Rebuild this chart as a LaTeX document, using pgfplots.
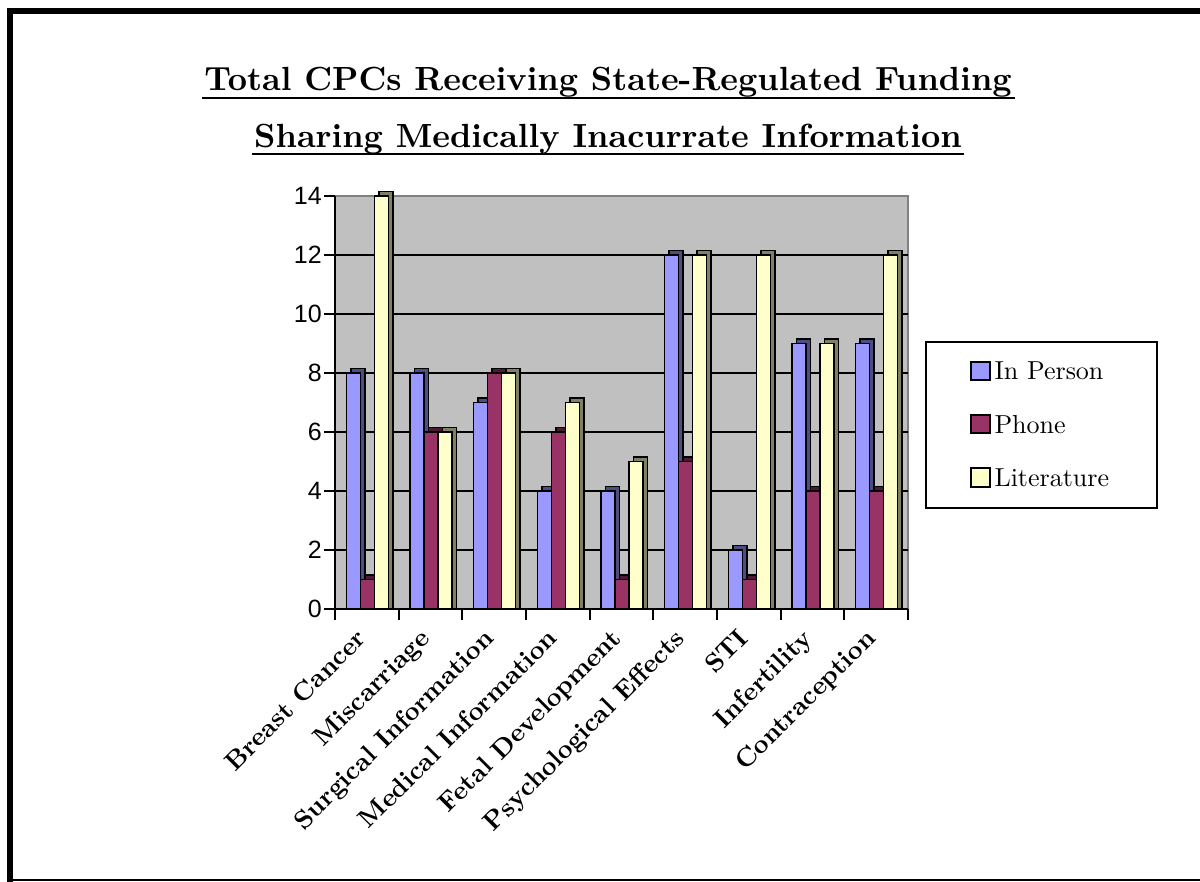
\documentclass[border=0pt]{standalone}
\usepackage{fontspec}
\setmainfont{lmroman10-regular.otf}[BoldFont=lmroman10-bold.otf, ItalicFont=lmroman10-italic.otf, BoldItalicFont=lmroman10-bolditalic.otf]
\usepackage{pgfplots}
\pgfplotsset{compat=1.18}
\usepackage{pgfplotstable}
\newfontfamily\arialf{Liberation Sans}
\definecolor{cblue}{RGB}{153,153,255}
\definecolor{cmaroon}{RGB}{153,51,102}
\definecolor{cyellow}{RGB}{255,255,204}
\definecolor{dblue}{RGB}{77,77,128}
\definecolor{dmaroon}{RGB}{77,26,51}
\definecolor{dyellow}{RGB}{128,128,102}
\definecolor{wall}{RGB}{192,192,192}
\definecolor{walledge}{RGB}{128,128,128}

\pgfplotstableread{
x inperson phone literature
0 8 1 14
1 8 6 6
2 7 8 8
3 4 6 7
4 4 1 5
5 12 5 12
6 2 1 12
7 9 4 9
8 9 4 12
}\datatable

\pgfplotsset{
 sqlegend/.style={legend image code/.code={\draw[fill=#1,draw=black,line width=2pt] (0pt,-8.5pt) rectangle (18.5pt,10pt);}},
}

\begin{document}
\begin{tikzpicture}[x=1pt,y=1pt]
\useasboundingbox (0,0) rectangle (1200,882);
% frame
\draw[line width=6pt] (10,0) -- (10,874);
\draw[line width=6pt] (7,871) -- (1200,871);
\draw[line width=2pt] (10,1.5) -- (1200,1.5);
% title
\node[anchor=base, inner sep=0pt, font=\fontsize{33.5}{36}\selectfont\bfseries] (t1) at (608,791) {Total CPCs Receiving State-Regulated Funding};
\draw[line width=2.5pt] ([xshift=-2pt,yshift=-7pt]t1.base west) -- ([xshift=3pt,yshift=-7pt]t1.base east);
\node[anchor=base, inner sep=0pt, font=\fontsize{33.5}{36}\selectfont\bfseries] (t2) at (608,734) {Sharing Medically Inacurrate Information};
\draw[line width=2.5pt] ([xshift=-2pt,yshift=-6pt]t2.base west) -- ([xshift=2pt,yshift=-6pt]t2.base east);

\begin{axis}[
 at={(335pt,273pt)}, anchor=south west,
 scale only axis, width=573pt, height=413pt,
 xmin=-0.5, xmax=8.5, ymin=0, ymax=14,
 clip=false,
 axis x line*=bottom, axis y line*=left,
 axis line style={line width=2pt},
 axis background/.style={fill=wall, draw=walledge, line width=1.5pt},
 xtick={-0.5,0.5,...,8.5},
 x tick label as interval,
 xticklabels={Breast Cancer,Miscarriage,Surgical Information,Medical Information,Fetal Development,Psychological Effects,STI,Infertility,Contraception},
 xticklabel style={font=\fontsize{26}{26}\selectfont\bfseries, xshift=-12pt, yshift=-7pt, rotate=45, anchor=north east, inner sep=0pt},
 ytick={0,2,...,14},
 yticklabel style={font=\arialf\fontsize{25}{25}\selectfont, inner sep=2pt},
 /pgf/number format/assume math mode=true,
 tick align=outside,
 major tick length=11pt,
 tick style={black, line width=2pt},
 extra y ticks={2,4,...,12}, extra y tick labels={},
 extra y tick style={grid=major, major tick length=0pt},
 major grid style={black, line width=2pt},
 legend style={at={(1.0297,0.649)}, anchor=north west, draw=black, line width=2pt,
   font=\fontsize{26}{26}\selectfont, inner xsep=44pt, inner ysep=18pt, row sep=30pt,
   nodes={inner xsep=4pt, inner ysep=2pt}},
 legend cell align=left,
]
% In Person
\addplot[ybar, bar width=0.22, bar shift=-0.142, fill=dblue, draw=black, line width=1.5pt, forget plot] table[x=x, y expr=\thisrow{inperson}+0.15]{\datatable};
\addplot[ybar, bar width=0.22, bar shift=-0.212, fill=cblue, draw=black, line width=1.5pt, sqlegend=cblue] table[x=x, y=inperson]{\datatable};
% Phone
\addplot[ybar, bar width=0.22, bar shift=0.078, fill=dmaroon, draw=black, line width=1.5pt, forget plot] table[x=x, y expr=\thisrow{phone}+0.15]{\datatable};
\addplot[ybar, bar width=0.22, bar shift=0.008, fill=cmaroon, draw=black, line width=1.5pt, sqlegend=cmaroon] table[x=x, y=phone]{\datatable};
% Literature
\addplot[ybar, bar width=0.22, bar shift=0.298, fill=dyellow, draw=black, line width=1.5pt, forget plot] table[x=x, y expr=\thisrow{literature}+0.15]{\datatable};
\addplot[ybar, bar width=0.22, bar shift=0.228, fill=cyellow, draw=black, line width=1.5pt, sqlegend=cyellow] table[x=x, y=literature]{\datatable};
\legend{In Person, Phone, Literature}
\end{axis}
\end{tikzpicture}
\end{document}
